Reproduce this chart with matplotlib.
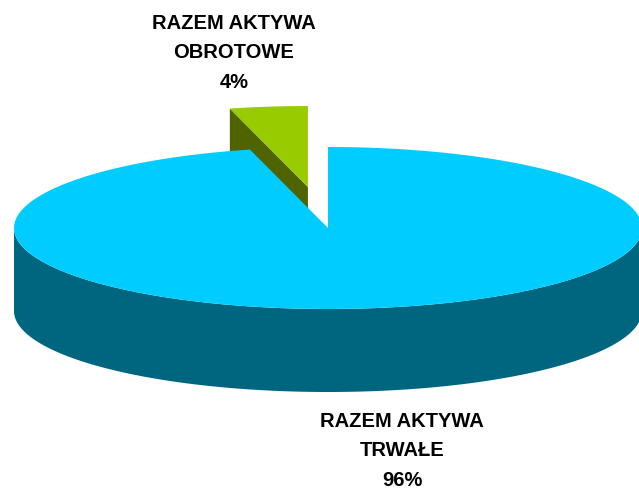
import numpy as np
import matplotlib
matplotlib.use("Agg")
from matplotlib import pyplot as plt
from matplotlib.patches import Polygon

# data
labels = ["RAZEM AKTYWA\nTRWAŁE", "RAZEM AKTYWA\nOBROTOWE"]
values = [96, 4]
top_colors = ["#00CCFF", "#99CC00"]
side_colors = ["#006680", "#4F6400"]
explode = [0.0, 0.51]

# layout of the 3d pie (pixels)
W, H = 639, 489
cx, cy = 328, 229
rx, ry = 314, 81
depth = 83
label_pos = [(402, 451), (234, 53)]

plt.rcParams['font.family'] = ['Liberation Sans', 'DejaVu Sans']

fig = plt.figure(figsize=(W / 100, H / 100), dpi=100)
ax = fig.add_axes([0, 0, 1, 1])
ax.set_xlim(0, W)
ax.set_ylim(H, 0)
ax.axis("off")


def pt(phi, ox, oy, dz=0):
    r = np.radians(phi)
    return ox + rx * np.cos(r), oy - ry * np.sin(r) + dz


total = sum(values)
start = 90.0
slices = []
for v, e in zip(values, explode):
    sweep = 360.0 * v / total
    a0, a1 = start, start - sweep  # clockwise from 12 o'clock
    mid = np.radians((a0 + a1) / 2)
    ox = cx + rx * e * np.cos(mid)
    oy = cy - ry * e * np.sin(mid)
    slices.append((a0, a1, ox, oy))
    start = a1

# exploded slice sits behind, draw it first
for i in [1, 0]:
    a0, a1, ox, oy = slices[i]
    phis = np.linspace(a0, a1, 300)
    top = [(ox, oy)] + [pt(p, ox, oy) for p in phis]

    if i == 1:
        # radial face on the left edge of the small slice
        ex, ey = pt(a0, ox, oy)
        face = [(ox, oy), (ex, ey), (ex, ey + depth), (ox, oy + depth)]
        ax.add_patch(Polygon(face, closed=True, fc=side_colors[i], ec="none"))
    else:
        # outer wall, front half
        front = np.linspace(180, 360, 300)
        upper = [pt(p, ox, oy) for p in front]
        lower = [pt(p, ox, oy, depth) for p in front[::-1]]
        ax.add_patch(Polygon(upper + lower, closed=True, fc=side_colors[i], ec="none"))
    ax.add_patch(Polygon(top, closed=True, fc=top_colors[i], ec="none"))

for i, (lab, v) in enumerate(zip(labels, values)):
    x, y = label_pos[i]
    pct = 100.0 * v / total
    ax.text(x, y, f"{lab}\n{pct:.0f}%", ha="center", va="center",
            fontsize=14.5, fontweight="bold", linespacing=1.7, color="black")

fig.savefig("out.png", dpi=100)
